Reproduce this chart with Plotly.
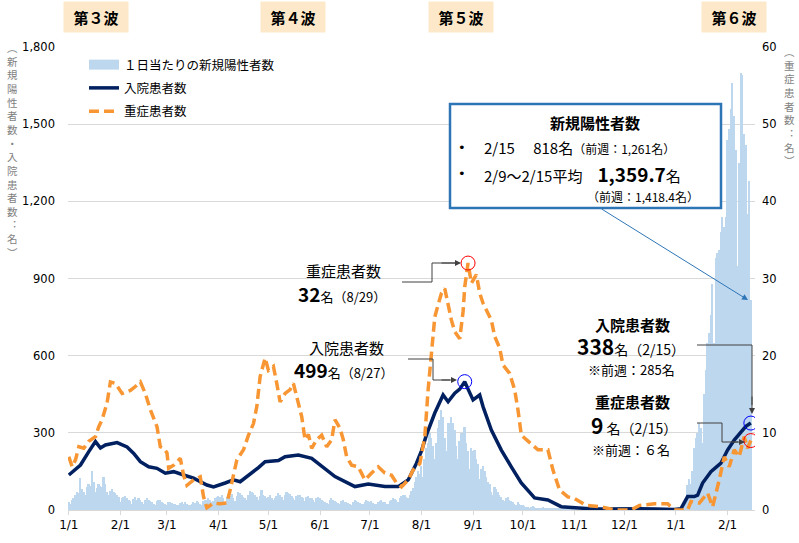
import plotly.graph_objects as go
import pandas as pd

# ---------------- data ----------------
day_dates = pd.date_range("2021-01-01", "2022-02-15", freq="D")

pos_2021_01 = [30,25,38,45,60,70,66,123,80,70,60,90,100,95,153,110,70,85,100,95,90,130,100,70,60,75,80,70,65,60,50]
pos_2021_02 = [30,45,50,55,48,40,35,25,42,50,40,45,38,30,22,38,45,40,35,30,25,20,35,40,38,30,28,22]
pos_2021_03 = [20,30,32,28,25,22,18,20,28,30,25,30,24,20,18,25,30,28,35,30,22,20,35,40,38,45,40,30,35,45,50]
pos_2021_04 = [55,50,60,45,30,50,60,55,62,48,35,55,70,65,60,50,45,40,60,75,70,65,58,50,40,55,78,60,55,48]
pos_2021_05 = [50,60,45,40,45,55,65,60,52,40,60,70,66,62,55,45,40,55,60,58,50,45,35,50,55,48,45,40,30,45,50]
pos_2021_06 = [45,40,35,30,28,25,40,45,38,35,30,26,22,35,40,33,30,27,25,20,30,38,35,30,28,25,22,30,40,35]
pos_2021_07 = [30,35,28,25,22,30,35,38,33,30,25,22,35,40,45,42,38,30,45,55,60,58,50,45,60,75,85,110,130,150,140]
pos_2021_08 = [170,130,200,240,260,300,280,250,200,260,320,350,389,360,280,230,338,340,363,338,310,250,200,270,300,300,324,260,230,160,240]
pos_2021_09 = [230,233,200,180,120,160,170,150,130,110,100,70,60,90,80,70,60,50,40,35,45,50,40,35,30,25,20,30,25,20]
pos_2021_10 = [18,15,12,10,8,12,14,10,9,8,6,7,10,9,8,6,5,4,6,8,7,5,4,3,5,6,5,4,3,4,5]
pos_2021_11 = [3,4,2,1,3,2,2,1,2,3,2,1,1,2,3,2,1,1,2,2,1,0,1,2,3,1,1,0,1,2]
pos_2021_12 = [1,2,1,0,1,2,1,1,2,1,1,0,1,2,1,1,2,1,0,1,2,2,1,3,2,2,3,4,3,5,4]
pos_2022_01 = [1,2,3,5,10,25,45,97,120,100,150,240,280,300,338,320,260,450,544,649,690,760,880,650,980,1000,1011,1080,1140,1100,1140]
pos_2022_02 = [1439,1480,1560,1660,1530,1400,950,1349,1700,1690,1460,1420,1150,1280,818]

daily_positive = (pos_2021_01 + pos_2021_02 + pos_2021_03 + pos_2021_04 + pos_2021_05 + pos_2021_06 +
                  pos_2021_07 + pos_2021_08 + pos_2021_09 + pos_2021_10 + pos_2021_11 + pos_2021_12 +
                  pos_2022_01 + pos_2022_02)

hosp_dates = ["2021-01-01","2021-01-08","2021-01-13","2021-01-17","2021-01-20","2021-01-23","2021-01-30",
              "2021-02-05","2021-02-09","2021-02-13","2021-02-18","2021-02-23","2021-02-28","2021-03-05",
              "2021-03-11","2021-03-17","2021-03-25","2021-03-29","2021-04-05","2021-04-10","2021-04-14",
              "2021-04-21","2021-04-25","2021-04-29","2021-05-07","2021-05-11","2021-05-19","2021-05-27",
              "2021-06-02","2021-06-10","2021-06-22","2021-06-30","2021-07-10","2021-07-18","2021-07-24",
              "2021-07-26","2021-07-29","2021-08-01","2021-08-04","2021-08-09","2021-08-14","2021-08-17",
              "2021-08-21","2021-08-24","2021-08-27","2021-08-29","2021-09-01","2021-09-05","2021-09-07",
              "2021-09-12","2021-09-18","2021-09-24","2021-09-30","2021-10-08","2021-10-16","2021-10-24",
              "2021-11-01","2021-11-10","2021-11-20","2021-12-01","2021-12-10","2021-12-20","2021-12-31",
              "2022-01-04","2022-01-08","2022-01-12","2022-01-14","2022-01-17","2022-01-22","2022-01-28",
              "2022-02-01","2022-02-05","2022-02-09","2022-02-12","2022-02-15"]
hosp_values = [136,175,227,266,241,253,262,
               245,220,188,168,162,143,149,
               136,124,97,90,105,117,110,
               143,165,188,192,207,214,201,
               171,130,91,101,91,91,117,
               143,182,230,292,377,447,421,
               454,470,499,470,428,447,402,
               311,233,168,105,47,39,13,
               8,5,4,6,5,4,2,
               5,52,52,58,105,149,182,
               233,272,304,325,338]

sev_dates = ["2021-01-01","2021-01-03","2021-01-05","2021-01-07","2021-01-10","2021-01-13","2021-01-17",
             "2021-01-19","2021-01-21","2021-01-24","2021-01-26","2021-01-29","2021-02-02","2021-02-07",
             "2021-02-10","2021-02-13","2021-02-16","2021-02-19","2021-02-23","2021-02-25","2021-02-27",
             "2021-03-01","2021-03-02","2021-03-05","2021-03-09","2021-03-11","2021-03-13","2021-03-17",
             "2021-03-21","2021-03-23","2021-03-25","2021-03-29","2021-04-02","2021-04-06","2021-04-08",
             "2021-04-12","2021-04-16","2021-04-19","2021-04-22","2021-04-24","2021-04-26","2021-04-29",
             "2021-05-01","2021-05-04","2021-05-06","2021-05-08","2021-05-11","2021-05-14","2021-05-16",
             "2021-05-18","2021-05-21","2021-05-23","2021-05-25","2021-05-27","2021-05-30","2021-06-02",
             "2021-06-05","2021-06-08","2021-06-10","2021-06-13","2021-06-15","2021-06-17","2021-06-20",
             "2021-06-24","2021-06-26","2021-06-28","2021-07-02","2021-07-06","2021-07-10","2021-07-14",
             "2021-07-17","2021-07-20","2021-07-24","2021-07-27","2021-07-31","2021-08-03","2021-08-05",
             "2021-08-07","2021-08-09","2021-08-11","2021-08-13","2021-08-15","2021-08-17","2021-08-19",
             "2021-08-21","2021-08-24","2021-08-26","2021-08-27","2021-08-29","2021-08-31","2021-09-03",
             "2021-09-05","2021-09-07","2021-09-09","2021-09-12","2021-09-14","2021-09-17","2021-09-19",
             "2021-09-23","2021-09-26","2021-09-28","2021-09-30","2021-10-04","2021-10-10","2021-10-16",
             "2021-10-19","2021-10-23","2021-10-28","2021-11-01","2021-11-08","2021-11-17","2021-11-25",
             "2021-12-05","2021-12-10","2021-12-19","2021-12-27","2021-12-31","2022-01-08","2022-01-10",
             "2022-01-15","2022-01-20","2022-01-23","2022-01-27","2022-01-30","2022-02-02","2022-02-05",
             "2022-02-08","2022-02-11","2022-02-13","2022-02-15"]
sev_values = [6.9,5.6,6.5,8.2,8.0,8.9,9.5,
              10.8,11.7,13.9,16.6,16.4,15.1,15.5,
              16.0,16.6,15.1,13.0,10.8,8.2,8.0,
              7.4,5.4,5.8,6.7,4.5,3.2,3.9,
              4.3,1.7,0.3,0.9,0.8,0.9,2.6,
              6.5,7.8,9.7,11.2,13.4,17.3,19.7,
              18.1,18.6,16.4,14.0,15.1,15.6,16.4,
              14.7,12.1,9.1,9.8,8.0,9.1,9.7,
              8.2,9.1,11.7,10.6,9.1,6.9,5.8,
              5.6,4.8,3.9,4.8,5.6,4.8,4.5,
              3.5,3.0,3.9,5.2,6.0,9.5,15.6,
              20.7,25.0,26.6,28.1,28.7,26.6,24.6,
              23.1,22.2,25.7,28.9,32,29.4,30.5,
              28.1,26.8,25.9,24.6,22.5,21.0,18.8,
              17.7,15.6,13.0,9.7,8.9,7.8,7.8,
              5.2,2.6,1.7,1.5,0.6,0.4,0,
              0,0.6,0.8,0.8,0,0,1.1,
              0.9,2.2,0.4,3.9,6.9,5.6,7.8,
              6.9,9.5,8,9]

tick_dates = ["2021-01-01","2021-02-01","2021-03-01","2021-04-01","2021-05-01","2021-06-01","2021-07-01",
              "2021-08-01","2021-09-01","2021-10-01","2021-11-01","2021-12-01","2022-01-01","2022-02-01"]
tick_labels = ["1/1","2/1","3/1","4/1","5/1","6/1","7/1","8/1","9/1","10/1","11/1","12/1","1/1","2/1"]

# highlighted points
peak_hosp_date, peak_hosp_val = "2021-08-27", 499
peak_sev_date, peak_sev_val = "2021-08-29", 32
last_date = "2022-02-15"
last_hosp, last_sev = 338, 9

# ---------------- figure ----------------
FONT = "DejaVu Sans, Noto Sans CJK JP, sans-serif"
JP = "Noto Sans CJK JP, DejaVu Sans, sans-serif"
BAR_C = "#BDD7EE"
NAVY = "#002060"
ORANGE = "#F79633"

fig = go.Figure()
fig.add_trace(go.Bar(x=day_dates, y=daily_positive, marker=dict(color=BAR_C, line=dict(width=0)),
                     showlegend=False, hoverinfo="skip"))
fig.add_trace(go.Scatter(x=[None], y=[None], mode="lines", line=dict(color=BAR_C, width=10),
                         name="１日当たりの新規陽性者数", legendgroup="a"))
fig.add_trace(go.Scatter(x=hosp_dates, y=hosp_values, mode="lines", line=dict(color=NAVY, width=3.5),
                         name="入院患者数", legendgroup="b"))
fig.add_trace(go.Scatter(x=sev_dates, y=sev_values, mode="lines", yaxis="y2",
                         line=dict(color=ORANGE, width=3.5, dash="10px,5px"),
                         name="重症患者数", legendgroup="c"))
# circles
fig.add_trace(go.Scatter(x=[peak_hosp_date, last_date], y=[peak_hosp_val, last_hosp], mode="markers",
                         marker=dict(symbol="circle-open", size=14, color="#0000FF", line=dict(width=1)),
                         showlegend=False, hoverinfo="skip"))
fig.add_trace(go.Scatter(x=[peak_sev_date, last_date], y=[peak_sev_val, last_sev], mode="markers", yaxis="y2",
                         marker=dict(symbol="circle-open", size=14, color="#FF0000", line=dict(width=1)),
                         showlegend=False, hoverinfo="skip"))

X0, X1, Y0, Y1 = 68, 755, 47, 510
def px(x):
    return (x - X0) / (X1 - X0)
def py(y):
    return (Y1 - y) / (Y1 - Y0)

annotations = []
shapes = []

def text(x, y, s, size=13, xanchor="center", yanchor="middle", color="#000000", font=JP, **kw):
    annotations.append(dict(x=px(x), y=py(y), xref="paper", yref="paper", text=s, showarrow=False,
                            xanchor=xanchor, yanchor=yanchor, font=dict(size=size, color=color, family=font), **kw))

def polyline(points, color="#404040", width=1):
    path = "M " + " L ".join(f"{px(a)},{py(b)}" for a, b in points)
    shapes.append(dict(type="path", path=path, xref="paper", yref="paper",
                       line=dict(color=color, width=width)))

def arrow(x_from, y_from, x_to, y_to, color="#404040", width=1):
    annotations.append(dict(x=px(x_to), y=py(y_to), xref="paper", yref="paper", ax=x_from - x_to,
                            ay=y_from - y_to, axref="pixel", ayref="pixel", text="", showarrow=True,
                            arrowhead=2, arrowsize=1.2, arrowwidth=width, arrowcolor=color))

# wave labels
for cx, lab in [(96, "第３波"), (293, "第４波"), (461, "第５波"), (734, "第６波")]:
    annotations.append(dict(x=px(cx), y=py(17), xref="paper", yref="paper", text=f"<b>{lab}</b>",
                            showarrow=False, bgcolor="#FDE9C9", width=62, height=28,
                            font=dict(size=15, color="#000000", family=JP), xanchor="center", yanchor="middle"))

# vertical axis titles (upright stacked characters)
left_title = ["︵", "新", "規", "陽", "性", "者", "数", "・", "入", "院", "患", "者", "数", "︓", "名", "︶"]
right_title = ["︵", "重", "症", "患", "者", "数", "︓", "名", "︶"]
text(12, 38, "<br>".join(left_title), size=10.5, color="#7F7F7F", yanchor="top")
text(789, 42, "<br>".join(right_title), size=10.5, color="#7F7F7F", yanchor="top")

# summary box
shapes.append(dict(type="rect", xref="paper", yref="paper", x0=px(450), x1=px(721), y0=py(208), y1=py(104),
                   line=dict(color="#2E75B6", width=2.5), fillcolor="#FFFFFF", layer="above"))
text(595, 123, "<b>新規陽性者数</b>", size=15)
text(462, 148, "•", size=13, font=FONT)
text(462, 173, "•", size=13, font=FONT)
text(482, 148, "2/15　 818名<span style='font-size:12px'>（前週：1,261名）</span>", size=15, xanchor="left")
text(482, 173, "2/9～2/15平均　<b><span style='font-size:19px'>1,359.7</span></b>名", size=15, xanchor="left")
text(585, 196, "（前週：1,418.4名）", size=12, xanchor="left")
arrow(600, 208, 748, 300, color="#2E75B6", width=1)

# peak annotations (wave 5)
text(343, 270, "重症患者数", size=15)
text(296, 293, "<b><span style='font-size:19px'>32</span></b>名（8/29）", size=13, xanchor="left")
polyline([(402, 282), (432, 282), (432, 263), (455, 263)])
arrow(440, 263, 461, 263)

text(346, 347, "入院患者数", size=15)
text(292, 369, "<b><span style='font-size:19px'>499</span></b>名（8/27）", size=13, xanchor="left")
polyline([(408, 359), (433, 359), (433, 380), (450, 380)])
arrow(440, 380, 457, 380)

# latest annotations
text(632, 324, "<b>入院患者数</b>", size=15)
text(575, 346, "<b><span style='font-size:21px'>338</span></b>名（2/15）", size=14, xanchor="left")
text(631, 369, "※前週：285名", size=13)
polyline([(697, 345), (752, 345), (752, 405)])
arrow(752, 395, 752, 414)

text(632, 401, "<b>重症患者数</b>", size=15)
text(589, 425, "<b><span style='font-size:21px'>9</span></b> 名（2/15）", size=14, xanchor="left")
text(631, 449, "※前週：６名", size=13)
polyline([(697, 423), (722, 423), (722, 442), (738, 442)])
arrow(730, 442, 745, 442)

fig.update_layout(
    width=799, height=543, margin=dict(l=X0, r=799 - X1, t=Y0, b=543 - Y1),
    paper_bgcolor="#FFFFFF", plot_bgcolor="#FFFFFF",
    font=dict(family=FONT, size=12, color="#000000"),
    bargap=0,
    showlegend=True,
    legend=dict(x=px(84), y=py(50), xanchor="left", yanchor="top", bgcolor="rgba(0,0,0,0)",
                font=dict(size=12.5, family=JP), tracegroupgap=4, itemwidth=30),
    xaxis=dict(type="date", range=["2020-12-31 12:00", "2022-02-17 12:00"], tickvals=tick_dates,
               ticktext=tick_labels, ticks="outside", ticklen=4, tickcolor="#D9D9D9",
               showline=True, linecolor="#D9D9D9", showgrid=False, tickfont=dict(size=12)),
    yaxis=dict(range=[0, 1800], dtick=300, tickformat=",", showgrid=True, gridcolor="#D9D9D9",
               zeroline=False, tickfont=dict(size=11.5), ticklabelstandoff=12),
    yaxis2=dict(range=[0, 60], dtick=10, overlaying="y", side="right", showgrid=False, zeroline=False,
                tickfont=dict(size=11.5), ticklabelstandoff=6),
    annotations=annotations, shapes=shapes,
)

fig.write_html("out.html")
